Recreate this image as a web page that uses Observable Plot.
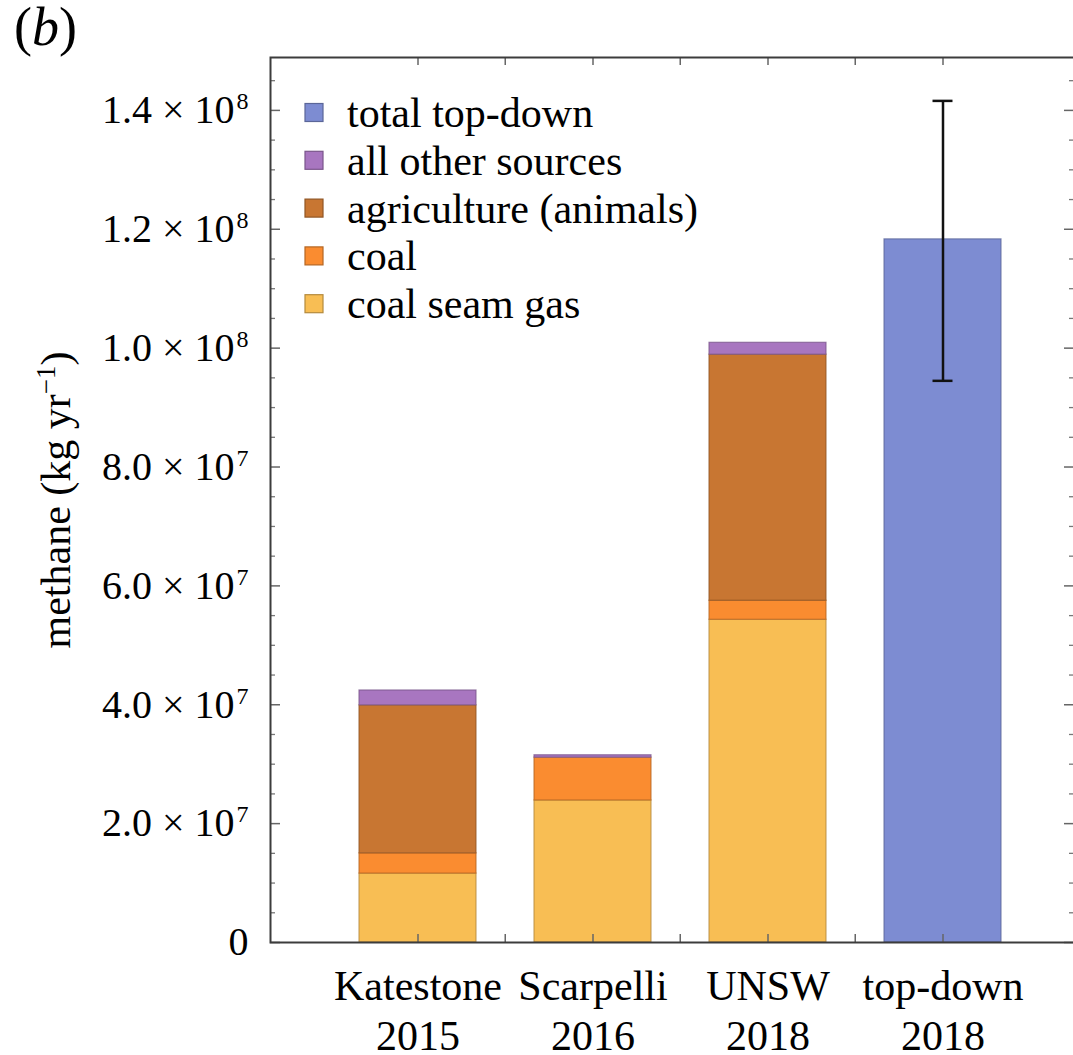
<!DOCTYPE html>
<html>
<head>
<meta charset="utf-8">
<script src="https://cdn.jsdelivr.net/npm/d3@7"></script>
<script src="https://cdn.jsdelivr.net/npm/@observablehq/plot@0.6"></script>
<style>
  html, body { margin: 0; padding: 0; background: #fff; }
  #chart { width: 1073px; height: 1055px; overflow: hidden; }
</style>
</head>
<body>
<div id="chart"></div>
<script>
// Methane emission estimates by study (kg yr^-1)
const studyNames = ["Katestone", "Scarpelli", "UNSW", "top-down"];
const studyYears = ["2015", "2016", "2018", "2018"];
const categories = studyNames.map((n, i) => `${n}\n${studyYears[i]}`);

// Stack order, bottom to top
const sources = ["coal seam gas", "coal", "agriculture (animals)", "all other sources", "total top-down"];
const sourceColors = ["#F8BE54", "#FA8C30", "#C87632", "#A876C0", "#7D8CD2"];
const legendOrder = ["total top-down", "all other sources", "agriculture (animals)", "coal", "coal seam gas"];

// Per-study values, in the order of categories
const coalSeamGas = [1.16e7, 2.39e7, 5.43e7, 0];
const coal        = [3.4e6, 7.2e6, 3.2e6, 0];
const agriculture = [2.49e7, 0, 4.14e7, 0];
const otherSrc    = [2.5e6, 4e5, 2.0e6, 0];
const topDown     = [0, 0, 0, 1.183e8];

// Uncertainty range on the top-down estimate
const topDownLow  = [9.45e7];
const topDownHigh = [1.416e8];

// Axis ticks
const yMajorTicks = [0, 2e7, 4e7, 6e7, 8e7, 1e8, 1.2e8, 1.4e8];
const yMinorTicks = d3.range(0, 1.49e8, 5e6).filter(v => v % 2e7 !== 0);
const yMax = 1.489e8;

// Long-format rows for the stacked bars
const seriesBySource = [coalSeamGas, coal, agriculture, otherSrc, topDown];
const rows = [];
categories.forEach((c, i) => {
  sources.forEach((s, k) => {
    const v = seriesBySource[k][i];
    if (v > 0) rows.push({category: c, source: s, value: v});
  });
});
const colorOf = Object.fromEntries(sources.map((s, k) => [s, sourceColors[k]]));
const strokeOf = Object.fromEntries(sources.map((s, k) => [s, d3.color(sourceColors[k]).darker(0.9).formatHex()]));

const errorRows = [{category: categories[3], low: topDownLow[0], high: topDownHigh[0]}];

// Layout
const W = 1073, H = 1055;
const M = {top: 57, right: -1, bottom: 113, left: 270};
const frameW = W - M.left - M.right;
const frameH = H - M.top - M.bottom;
const padIn = 1 / 3, padOut = 0.457, alignX = 0.548;
const step = frameW / (categories.length - padIn + 2 * padOut);
const bandW = step * (1 - padIn);
const capW = 20;
const FONT = "'Liberation Serif', 'Times New Roman', Times, serif";
const AXIS_GRAY = "#3c3c3c";

function sciLabel(v) {
  if (v === 0) return "0";
  const e = Math.floor(Math.log10(v) + 1e-9);
  return `${(v / 10 ** e).toFixed(1)} × 10^${e}`;
}

const chart = Plot.plot({
  width: W,
  height: H,
  marginTop: M.top,
  marginRight: M.right,
  marginBottom: M.bottom,
  marginLeft: M.left,
  style: {fontFamily: FONT, background: "white", color: "black", overflow: "hidden"},
  x: {domain: categories, paddingInner: padIn, paddingOuter: padOut, align: alignX, axis: null},
  y: {domain: [0, yMax], axis: null},
  marks: [
    Plot.barY(rows, Plot.stackY({
      x: "category",
      y: "value",
      z: "source",
      order: sources,
      fill: d => colorOf[d.source],
      stroke: d => strokeOf[d.source],
      strokeWidth: 1.2,
      strokeOpacity: 0.75
    })),
    // error bar on the top-down total
    Plot.ruleX(errorRows, {x: "category", y1: "low", y2: "high", stroke: "#111", strokeWidth: 2.5}),
    Plot.tickY(errorRows, {x: "category", y: "low", stroke: "#111", strokeWidth: 2.5,
      insetLeft: (bandW - capW) / 2, insetRight: (bandW - capW) / 2}),
    Plot.tickY(errorRows, {x: "category", y: "high", stroke: "#111", strokeWidth: 2.5,
      insetLeft: (bandW - capW) / 2, insetRight: (bandW - capW) / 2}),
    // inward ticks on left and right edges
    Plot.ruleY(yMajorTicks, {y: d => d, insetRight: frameW - 10, stroke: "#666", strokeWidth: 1.5}),
    Plot.ruleY(yMinorTicks, {y: d => d, insetRight: frameW - 5, stroke: "#777", strokeWidth: 1.3}),
    Plot.ruleY(yMajorTicks, {y: d => d, insetLeft: frameW - 10, stroke: "#666", strokeWidth: 1.5}),
    Plot.ruleY(yMinorTicks, {y: d => d, insetLeft: frameW - 5, stroke: "#777", strokeWidth: 1.3}),
    // inward ticks on bottom and top edges: band centres and midpoints between bands
    Plot.ruleX(categories, {x: d => d, insetTop: frameH - 8, stroke: "#666", strokeWidth: 1.5}),
    Plot.ruleX(categories.slice(1), {x: d => d, dx: -step / 2, insetTop: frameH - 8, stroke: "#666", strokeWidth: 1.5}),
    Plot.ruleX(categories, {x: d => d, insetBottom: frameH - 8, stroke: "#666", strokeWidth: 1.5}),
    Plot.ruleX(categories.slice(1), {x: d => d, dx: -step / 2, insetBottom: frameH - 8, stroke: "#666", strokeWidth: 1.5}),
    Plot.frame({stroke: AXIS_GRAY, strokeWidth: 2}),
    Plot.axisY({ticks: yMajorTicks, tickSize: 0, tickPadding: 22, tickFormat: sciLabel,
      fontSize: 40, label: null}),
    Plot.axisX({tickSize: 0, tickPadding: 23, fontSize: 42, lineHeight: 1.17, label: null})
  ]
});

document.getElementById("chart").appendChild(chart);

const svg = d3.select(chart);

// Raise the exponent in the y tick labels
svg.selectAll('[aria-label="y-axis tick label"] text').each(function () {
  const s = this.textContent;
  if (!s.includes("^")) return;
  const [base, exp] = s.split("^");
  const t = d3.select(this);
  t.text(null);
  t.append("tspan").text(base);
  t.append("tspan").attr("font-size", 24).attr("dx", 2).attr("dy", -14).text(exp);
});

// y-axis title
const yTitle = svg.append("text")
  .attr("transform", "translate(70,500) rotate(-90)")
  .attr("text-anchor", "middle")
  .attr("font-family", FONT)
  .attr("font-size", 42)
  .attr("fill", "black");
yTitle.append("tspan").text("methane (kg yr");
yTitle.append("tspan").attr("font-size", 27).attr("dy", -15).text("\u22121");
yTitle.append("tspan").attr("dy", 15).text(")");

// panel tag
const tag = svg.append("text")
  .attr("x", 14).attr("y", 45)
  .attr("text-anchor", "start")
  .attr("font-family", FONT)
  .attr("font-size", 54)
  .attr("fill", "black");
tag.append("tspan").text("(");
tag.append("tspan").attr("font-style", "italic").text("b");
tag.append("tspan").text(")");

// legend
const legend = svg.append("g")
  .attr("font-family", FONT)
  .attr("font-size", 42)
  .attr("text-anchor", "start");
legendOrder.forEach((s, i) => {
  const base = 127 + i * 47.8;
  legend.append("rect")
    .attr("x", 305).attr("y", base - 23.5)
    .attr("width", 18).attr("height", 18)
    .attr("fill", colorOf[s])
    .attr("stroke", strokeOf[s])
    .attr("stroke-width", 1.2);
  legend.append("text")
    .attr("x", 347).attr("y", base)
    .attr("text-anchor", "start")
    .attr("fill", "black")
    .text(s);
});
</script>
</body>
</html>
